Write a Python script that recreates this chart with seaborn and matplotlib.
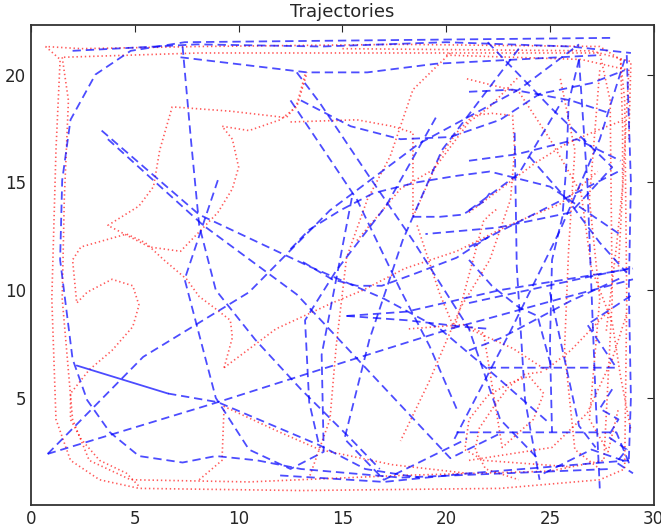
"""Trajetórias: caminhos vermelhos pontilhados e azuis tracejados."""

import matplotlib
matplotlib.use('Agg')
import matplotlib.pyplot as plt
import seaborn as sns

# trajetorias vermelhas
red_loop_outer_x = [0.7, 1.4, 1.2, 1.0, 1.2, 1.9, 3.3, 5.2, 13.0, 22.6, 27.4, 28.6, 28.7, 28.6, 28.4, 27.4, 17.8, 8.1, 2.4, 0.7]
red_loop_outer_y = [21.3, 20.7, 16.5, 9.6, 4.0, 2.1, 1.2, 0.8, 0.7, 0.8, 1.2, 1.7, 9.6, 18.8, 20.7, 21.3, 21.4, 21.3, 21.2, 21.3]
red_loop_inner_x = [1.5, 1.8, 1.6, 1.5, 2.0, 2.8, 4.8, 10.5, 17.8, 25.0, 27.6, 28.0, 27.9, 27.4, 17.8, 8.1, 1.5]
red_loop_inner_y = [20.8, 18.8, 14.2, 9.6, 4.0, 2.1, 1.2, 1.1, 1.4, 1.6, 2.1, 9.6, 18.8, 21.0, 21.0, 21.0, 20.8]
red_spike_x = [13.2, 12.8, 12.3, 9.6, 6.8, 6.2, 5.9, 5.2, 3.7, 5.7, 7.2, 8.1, 9.0, 9.7, 10.0, 9.7, 9.2, 10.5, 12.0, 12.8, 13.3]
red_spike_y = [20.0, 18.6, 18.0, 18.3, 18.5, 16.5, 14.8, 13.9, 13.0, 12.0, 11.8, 12.7, 13.6, 14.7, 15.7, 17.0, 17.6, 17.4, 17.9, 18.5, 20.1]
red_cusp_x = [9.3, 9.7, 9.6, 8.8, 8.1, 7.5, 6.4, 5.5, 4.6, 3.5, 2.4, 2.0, 2.2, 2.7, 3.9, 4.9, 5.2, 4.9, 3.9, 2.8, 1.9, 1.9, 2.4, 3.3, 4.6, 5.2]
red_cusp_y = [6.4, 7.8, 8.6, 9.2, 9.7, 10.5, 11.4, 12.2, 12.6, 12.3, 12.0, 11.4, 9.4, 9.9, 10.5, 10.2, 9.3, 8.3, 7.2, 6.3, 5.2, 4.0, 3.1, 2.1, 1.5, 0.9]
red_sweep_x = [9.3, 11.8, 14.5, 16.0, 18.0, 20.5, 23.0, 25.5, 27.3]
red_sweep_y = [6.4, 8.2, 9.4, 10.0, 11.0, 11.8, 13.0, 14.0, 15.5]
red_drop_x = [20.2, 18.4, 17.3, 16.2, 15.2, 14.7, 14.4, 13.4]
red_drop_y = [21.0, 19.3, 16.2, 14.2, 11.5, 7.4, 4.0, 1.3]
red_hook_x = [8.1, 9.2, 9.3, 12.0, 13.9, 17.4, 21.0]
red_hook_y = [1.2, 2.1, 4.6, 3.4, 2.6, 1.9, 1.5]
red_arch_x = [12.5, 15.7, 17.4, 18.4, 18.4, 19.7, 20.5, 21.3, 22.2, 23.2, 23.3, 23.1, 22.1, 20.7, 19.2, 17.8]
red_arch_y = [17.8, 17.9, 17.6, 17.3, 13.4, 16.2, 17.3, 18.1, 18.2, 18.1, 16.5, 14.2, 11.4, 9.2, 5.8, 3.0]
red_ring_x = [18.2, 20.9, 21.8, 22.7, 24.2, 24.7, 24.0, 23.1, 22.0, 21.1, 20.9, 21.8, 26.0]
red_ring_y = [8.2, 8.4, 8.0, 2.7, 4.0, 5.2, 6.0, 5.7, 5.1, 4.0, 2.6, 2.1, 1.8]
red_right_a_x = [25.5, 26.2, 25.9, 25.7, 26.2, 27.4]
red_right_a_y = [19.8, 16.5, 11.9, 7.2, 2.6, 1.7]
red_right_b_x = [27.4, 26.9, 27.4, 26.9, 27.8, 28.3]
red_right_b_y = [20.2, 14.2, 9.6, 4.0, 2.5, 4.5]
red_right_c_x = [21.0, 23.5, 25.0, 26.5, 27.0, 28.0, 28.4, 28.9]
red_right_c_y = [19.8, 19.2, 17.0, 14.5, 11.0, 8.5, 6.0, 3.5]
red_edge_x = [28.4, 28.5, 28.5, 28.2, 27.7]
red_edge_y = [20.7, 17.6, 14.8, 12.0, 8.0]
red_fan_x = [21.1, 25.1, 26.8, 28.0, 28.7]
red_fan_y = [2.1, 2.7, 4.3, 6.8, 8.9]
red_fan2_x = [21.1, 23.2, 24.8, 26.0, 27.9]
red_fan2_y = [8.2, 7.3, 6.3, 7.2, 9.1]
red_top_x = [15.0, 27.0, 28.9, 28.8]
red_top_y = [21.2, 21.1, 20.6, 17.0]
red_top2_x = [20.0, 26.5, 28.8, 28.3]
red_top2_y = [20.9, 20.7, 20.2, 11.0]
red_lift_x = [21.1, 24.3, 25.8, 27.5, 28.6]
red_lift_y = [13.6, 15.9, 16.8, 17.5, 17.9]
red_loop_low_x = [24.6, 23.8, 23.0, 22.3, 21.6, 21.4, 21.9, 23.5]
red_loop_low_y = [6.2, 6.1, 5.5, 4.6, 3.6, 2.6, 1.7, 1.2]
red_climb_x = [15.7, 17.8, 19.4, 21.1, 22.1, 23.5]
red_climb_y = [12.3, 14.7, 15.6, 17.8, 18.5, 19.9]
red_bend_x = [18.6, 19.7, 20.4, 21.8, 22.1, 22.5]
red_bend_y = [13.0, 9.8, 8.2, 13.2, 13.5, 13.8]

# trajetorias azuis
blue_frame_x = [27.9, 7.4, 4.8, 3.1, 1.9, 1.5, 1.4, 2.0, 2.7, 3.8, 5.2, 7.3, 8.9, 10.9, 13.0, 17.8, 27.9]
blue_frame_y = [21.7, 21.5, 21.1, 20.0, 17.9, 15.1, 11.4, 6.8, 4.9, 3.4, 2.3, 2.0, 2.3, 2.1, 1.7, 1.3, 1.7]
blue_diag_a_x = [3.4, 8.1, 13.4, 17.0, 19.7, 22.4, 25.0]
blue_diag_a_y = [17.4, 13.5, 11.1, 9.6, 8.2, 6.0, 3.8]
blue_diag_b_x = [3.7, 8.3, 12.8, 16.5, 20.2, 22.5]
blue_diag_b_y = [17.0, 13.0, 9.8, 6.0, 2.2, 3.3]
blue_solid_x = [2.2, 6.6]
blue_solid_y = [6.5, 5.2]
blue_low_x = [6.6, 9.0, 13.9, 16.1, 18.7]
blue_low_y = [5.2, 4.8, 2.8, 1.7, 1.3]
blue_rise_x = [0.8, 5.4, 10.5, 14.4, 18.7, 23.5, 26.4]
blue_rise_y = [2.4, 6.9, 9.9, 13.7, 16.8, 19.3, 21.4]
blue_flat_x = [0.8, 9.0, 13.9, 20.2, 25.5, 29.0]
blue_flat_y = [2.4, 4.8, 6.3, 8.2, 9.6, 10.5]
blue_down_x = [7.3, 7.7, 8.1, 8.9, 10.8, 13.0, 15.4, 16.8]
blue_down_y = [21.3, 17.0, 13.0, 10.0, 7.7, 5.4, 3.1, 1.7]
blue_zig_x = [9.0, 7.4, 8.9, 10.5, 12.5, 14.1, 14.0, 15.5]
blue_zig_y = [15.1, 10.5, 5.0, 2.6, 1.7, 2.5, 7.0, 14.5]
blue_top_x = [7.2, 13.3, 16.2, 19.5, 27.4]
blue_top_y = [20.8, 20.1, 20.1, 20.5, 20.9]
blue_slash_x = [12.8, 13.9, 16.2, 18.4, 21.1, 22.6, 24.5]
blue_slash_y = [20.1, 18.7, 15.4, 12.3, 8.2, 4.0, 2.1]
blue_back_x = [19.5, 17.1, 14.7, 13.2, 13.4, 13.9]
blue_back_y = [18.0, 13.9, 10.9, 8.6, 4.8, 2.7]
blue_wall_r_x = [28.7, 28.9, 28.8, 28.9, 28.8]
blue_wall_r_y = [20.9, 15.0, 10.0, 5.0, 2.1]
blue_wall_r2_x = [26.4, 26.8, 27.0, 27.2, 27.4]
blue_wall_r2_y = [20.7, 15.0, 10.0, 5.0, 0.8]
blue_mid_x = [15.2, 18.1, 22.6, 29.0]
blue_mid_y = [8.8, 9.0, 10.0, 11.0]
blue_mid2_x = [15.2, 18.1, 20.8, 22.1]
blue_mid2_y = [8.8, 8.6, 8.3, 8.2]
blue_bar_a_x = [20.5, 28.2, 28.8, 27.0, 24.5]
blue_bar_a_y = [3.4, 3.4, 2.0, 2.6, 1.4]
blue_bar_b_x = [22.0, 28.2, 26.8, 29.0]
blue_bar_b_y = [6.4, 6.4, 8.4, 9.8]
blue_climb_x = [20.4, 23.1, 25.5, 27.4, 28.6]
blue_climb_y = [3.1, 8.1, 12.8, 17.0, 20.7]
blue_col_x = [23.3, 23.4, 23.8, 24.5]
blue_col_y = [17.3, 11.1, 4.9, 1.2]
blue_corner_x = [22.0, 25.0, 28.0, 26.0, 22.5, 19.0]
blue_corner_y = [21.5, 18.5, 15.7, 13.6, 12.9, 12.6]
blue_cross_x = [23.5, 19.8, 17.9, 16.3, 15.1, 17.0, 21.0]
blue_cross_y = [21.2, 16.5, 12.3, 7.7, 3.1, 1.2, 3.1]
blue_arc_x = [13.0, 15.4, 17.8, 20.2, 22.6, 24.5, 27.0, 28.6]
blue_arc_y = [18.8, 17.6, 17.0, 17.1, 17.9, 19.1, 19.6, 20.2]
blue_arc_low_x = [12.5, 13.4, 14.9, 16.5, 18.6, 20.5, 22.1, 25.0, 28.5]
blue_arc_low_y = [11.9, 12.8, 13.7, 14.5, 15.0, 15.3, 15.5, 14.8, 12.5]
blue_bowl_x = [13.1, 14.5, 15.7, 16.9, 18.6, 20.5, 22.1]
blue_bowl_y = [11.3, 10.5, 10.2, 10.2, 10.8, 11.5, 12.5]
blue_cup_x = [18.4, 19.7, 20.8, 21.8, 22.1]
blue_cup_y = [13.4, 13.4, 13.5, 14.1, 14.5]
blue_plunge_x = [12.5, 15.7, 17.8, 19.2, 20.5]
blue_plunge_y = [18.8, 14.2, 10.0, 7.4, 4.5]
blue_chute_x = [26.4, 25.9, 25.8, 25.6, 25.1, 25.0, 25.1]
blue_chute_y = [20.7, 18.7, 15.9, 13.4, 11.4, 7.5, 3.4]
blue_ledge_x = [21.1, 23.2, 26.0, 27.9]
blue_ledge_y = [19.2, 19.3, 18.8, 18.2]
blue_ledge2_x = [21.1, 23.4, 26.3, 28.4]
blue_ledge2_y = [16.0, 16.3, 17.0, 16.0]
blue_steep_x = [21.1, 23.5, 25.6]
blue_steep_y = [13.7, 15.4, 18.8]
blue_fall_x = [24.0, 26.0, 27.4, 28.7]
blue_fall_y = [16.2, 14.0, 12.2, 10.8]
blue_ramp_x = [21.1, 28.5]
blue_ramp_y = [12.0, 15.6]
blue_shelf_x = [21.1, 26.8, 28.8]
blue_shelf_y = [9.4, 10.6, 11.0]
blue_shelf2_x = [21.1, 22.7, 26.0, 28.5]
blue_shelf2_y = [7.2, 7.8, 9.5, 10.6]
blue_kink_x = [21.1, 22.2, 23.5, 24.4, 25.1]
blue_kink_y = [11.4, 10.2, 9.2, 8.8, 6.3]
blue_slide_x = [25.0, 26.4, 27.2]
blue_slide_y = [9.9, 3.7, 2.7]
blue_wiggle_x = [28.0, 27.4, 28.3, 27.8, 28.7, 28.2, 29.0]
blue_wiggle_y = [5.4, 4.5, 4.0, 3.2, 2.6, 2.0, 1.5]
blue_floor_x = [12.0, 17.0, 21.1, 25.0, 28.8]
blue_floor_y = [1.4, 1.1, 1.5, 1.8, 2.1]
blue_roof_x = [2.0, 8.0, 14.0, 20.0, 26.0, 28.9]
blue_roof_y = [21.1, 21.4, 21.3, 21.5, 21.3, 21.0]

RED = [
    (red_loop_outer_x, red_loop_outer_y), (red_loop_inner_x, red_loop_inner_y),
    (red_spike_x, red_spike_y), (red_cusp_x, red_cusp_y), (red_sweep_x, red_sweep_y),
    (red_drop_x, red_drop_y), (red_hook_x, red_hook_y), (red_arch_x, red_arch_y),
    (red_ring_x, red_ring_y), (red_right_a_x, red_right_a_y),
    (red_right_b_x, red_right_b_y), (red_right_c_x, red_right_c_y),
    (red_edge_x, red_edge_y), (red_fan_x, red_fan_y), (red_fan2_x, red_fan2_y),
    (red_top_x, red_top_y), (red_top2_x, red_top2_y), (red_lift_x, red_lift_y),
    (red_loop_low_x, red_loop_low_y), (red_climb_x, red_climb_y), (red_bend_x, red_bend_y),
]
BLUE = [
    (blue_frame_x, blue_frame_y), (blue_diag_a_x, blue_diag_a_y), (blue_diag_b_x, blue_diag_b_y),
    (blue_low_x, blue_low_y), (blue_rise_x, blue_rise_y), (blue_flat_x, blue_flat_y),
    (blue_down_x, blue_down_y), (blue_zig_x, blue_zig_y), (blue_top_x, blue_top_y),
    (blue_slash_x, blue_slash_y), (blue_back_x, blue_back_y), (blue_wall_r_x, blue_wall_r_y),
    (blue_wall_r2_x, blue_wall_r2_y), (blue_mid_x, blue_mid_y), (blue_mid2_x, blue_mid2_y),
    (blue_bar_a_x, blue_bar_a_y), (blue_bar_b_x, blue_bar_b_y), (blue_climb_x, blue_climb_y),
    (blue_col_x, blue_col_y), (blue_corner_x, blue_corner_y), (blue_cross_x, blue_cross_y),
    (blue_arc_x, blue_arc_y), (blue_arc_low_x, blue_arc_low_y), (blue_bowl_x, blue_bowl_y),
    (blue_cup_x, blue_cup_y), (blue_plunge_x, blue_plunge_y),
    (blue_chute_x, blue_chute_y), (blue_ledge_x, blue_ledge_y),
    (blue_ledge2_x, blue_ledge2_y), (blue_steep_x, blue_steep_y), (blue_fall_x, blue_fall_y),
    (blue_ramp_x, blue_ramp_y), (blue_shelf_x, blue_shelf_y), (blue_shelf2_x, blue_shelf2_y),
    (blue_kink_x, blue_kink_y), (blue_slide_x, blue_slide_y), (blue_wiggle_x, blue_wiggle_y),
    (blue_floor_x, blue_floor_y), (blue_roof_x, blue_roof_y),
]

sns.set_style('white')
plt.rcParams['font.family'] = ['DejaVu Sans']
plt.rcParams['lines.scale_dashes'] = False
plt.rcParams['lines.dashed_pattern'] = [6.0, 3.5]
plt.rcParams['lines.dotted_pattern'] = [1.0, 2.0]

fig = plt.figure(figsize=(6.61, 5.31), dpi=100)
ax = fig.add_axes([0.047, 0.049, 0.942, 0.904])

for xs, ys in RED:
    sns.lineplot(x=xs, y=ys, sort=False, estimator=None, color='red',
                 linestyle=':', linewidth=1.2, alpha=0.65, ax=ax)
for xs, ys in BLUE:
    sns.lineplot(x=xs, y=ys, sort=False, estimator=None, color='blue',
                 linestyle='--', linewidth=1.3, alpha=0.7, ax=ax)
sns.lineplot(x=blue_solid_x, y=blue_solid_y, sort=False, estimator=None,
             color='blue', linewidth=1.3, alpha=0.7, ax=ax)

ax.set_xlim(0, 30)
ax.set_ylim(0.03, 22.3)
ax.set_xticks([0, 5, 10, 15, 20, 25, 30])
ax.set_yticks([5, 10, 15, 20])
ax.tick_params(labelsize=12, length=5, top=True, right=True, direction='in')
for s in ax.spines.values():
    s.set_color('#333333')
    s.set_linewidth(1.3)
ax.set_title('Trajectories', fontsize=13)

fig.savefig('out.png', dpi=100)
